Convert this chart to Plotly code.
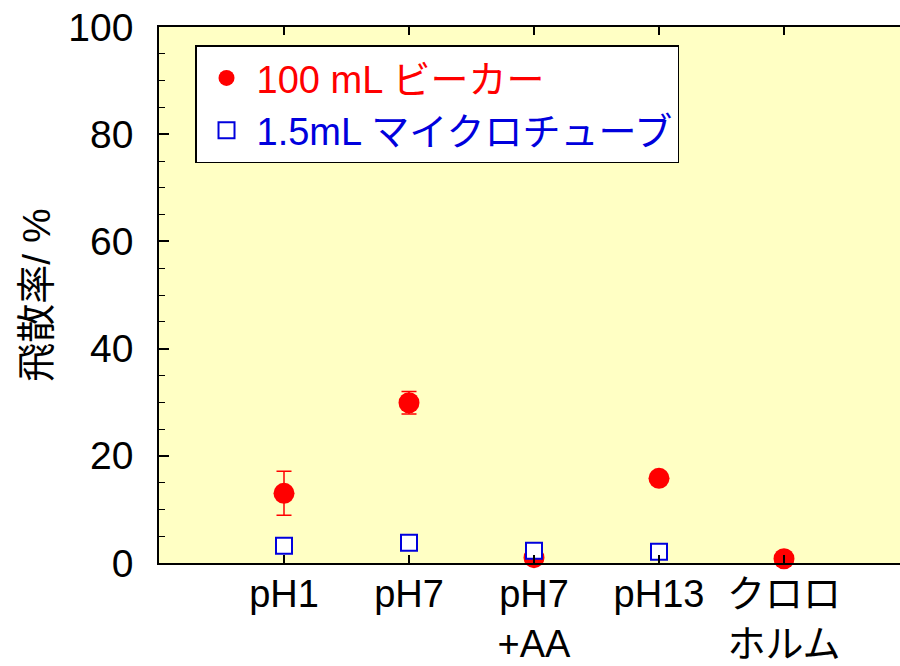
import plotly.graph_objects as go

# Categories along the x axis
categories = ["pH1", "pH7", "pH7<br>+AA", "pH13", "クロロ<br>ホルム"]
positions = [1, 2, 3, 4, 5]

# Scatter rate (%) for each container
beaker = [13.0, 29.9, 1.0, 15.8, 0.8]
beaker_err = [4.1, 2.1, 0, 0, 0]
tube = [3.2, 3.8, 2.3, 2.1, None]

y_ticks = [0, 20, 40, 60, 80, 100]

FONT = "Liberation Sans, Arial, Noto Sans CJK JP, sans-serif"
RED = "#FF0000"
BLUE = "#0000DD"

fig = go.Figure()

fig.add_trace(go.Scatter(
    x=positions, y=beaker,
    mode="markers",
    name='<span style="color:#FF0000">100 mL ビーカー</span>',
    marker=dict(symbol="circle", size=21, color=RED, line=dict(width=0)),
    error_y=dict(type="data", array=beaker_err, visible=True,
                 color=RED, thickness=1.5, width=7.5),
    cliponaxis=False,
))

fig.add_trace(go.Scatter(
    x=positions, y=tube,
    mode="markers",
    name='<span style="color:#0000DD">1.5mL マイクロチューブ</span>',
    marker=dict(symbol="square", size=16, color="white",
                line=dict(width=2, color=BLUE)),
    cliponaxis=False,
))

fig.update_layout(
    width=900, height=666,
    margin=dict(l=159, r=0, t=27, b=103, autoexpand=False),
    paper_bgcolor="white",
    plot_bgcolor="#FFFFC4",
    font=dict(family=FONT, size=39, color="black"),
    showlegend=True,
    legend=dict(
        x=0.0486, y=0.966, xanchor="left", yanchor="top",
        bgcolor="white", bordercolor="black", borderwidth=1.5,
        font=dict(family=FONT, size=38),
        itemsizing="trace",
        itemwidth=50,
        tracegroupgap=0,
    ),
)

fig.update_xaxes(
    range=[0, 5.928],
    tickmode="array", tickvals=positions, ticktext=categories,
    ticks="inside", ticklen=8, tickwidth=1.5, tickcolor="black",
    showline=True, linecolor="black", linewidth=1.5,
    mirror="ticks",
    showgrid=False, zeroline=False,
    automargin=False,
    ticklabelstandoff=-3,
    tickfont=dict(family=FONT, size=38),
)

fig.update_yaxes(
    range=[0, 100],
    tickmode="array", tickvals=y_ticks,
    ticks="inside", ticklen=10, tickwidth=1.5, tickcolor="black",
    minor=dict(dtick=5, ticks="inside", ticklen=6, tickwidth=1.2,
               tickcolor="black", showgrid=False),
    showline=True, linecolor="black", linewidth=1.5,
    showgrid=False, zeroline=False,
    automargin=False,
    ticklabelstandoff=16,
    tickfont=dict(family=FONT, size=39),
    title=dict(text="飛散率/ %", font=dict(family=FONT, size=39), standoff=6),
)

fig.write_html("out.html")
